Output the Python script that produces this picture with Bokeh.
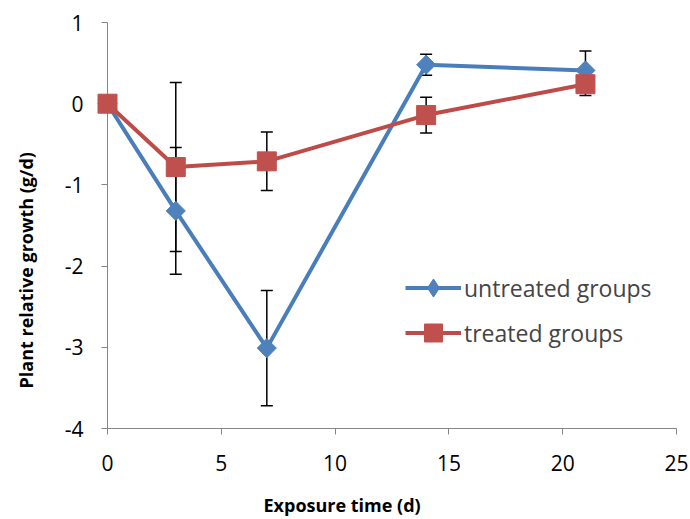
import numpy as np
from bokeh.plotting import figure
from bokeh.models import (ColumnDataSource, Whisker, TeeHead, FixedTicker, Legend, LegendItem,
                          Range1d, Title, LinearAxis)
from bokeh.embed import file_html
from bokeh.resources import INLINE

days = [0, 3, 7, 14, 21]
untreated = [0.0, -1.32, -3.01, 0.48, 0.41]
untreated_err = [0.0, 0.78, 0.71, 0.13, 0.24]
treated = [0.0, -0.78, -0.71, -0.14, 0.24]
treated_err = [0.0, 1.04, 0.36, 0.22, 0.14]
x_ticks = [0, 5, 10, 15, 20, 25]
y_ticks = [-4, -3, -2, -1, 0, 1]
labels = ["untreated groups", "treated groups"]
x_title = "Exposure time (d)"
y_title = "Plant relative growth (g/d)"

FONT = "Open Sans"
BLUE_LINE = "#4A7EBB"
BLUE = "#4F81BD"
RED_LINE = "#BE4B48"
RED = "#C0504D"
AXIS = "#868686"

p = figure(frame_width=569, frame_height=406, output_backend="svg", toolbar_location=None,
           x_range=Range1d(0, 25), y_range=Range1d(-4, 1),
           min_border_left=107, min_border_right=12, min_border_top=22, min_border_bottom=89)
p.outline_line_color = None
p.xgrid.visible = False
p.ygrid.visible = False

for ax in (p.xaxis[0], p.yaxis[0]):
    ax.axis_line_color = AXIS
    ax.major_tick_line_color = AXIS
    ax.minor_tick_line_color = None
    ax.major_tick_out = 6
    ax.major_tick_in = 0
    ax.major_label_text_font = FONT
    ax.major_label_text_font_size = "21px"
    ax.major_label_text_color = "black"

p.xaxis.ticker = FixedTicker(ticks=x_ticks)
p.yaxis.ticker = FixedTicker(ticks=y_ticks)
p.xaxis.major_label_overrides = {t: str(t) for t in x_ticks}
p.yaxis.major_label_overrides = {t: str(t) for t in y_ticks}
p.xaxis.major_label_standoff = 20
p.yaxis.major_label_standoff = 18

# invisible spacer axis (one hidden tick) to push the y title outward
spacer = LinearAxis(ticker=FixedTicker(ticks=[0]), axis_line_color=None,
                    major_tick_line_color=None, minor_tick_line_color=None,
                    major_tick_out=15, major_tick_in=0, minor_tick_out=0, minor_tick_in=0,
                    major_label_standoff=0, major_label_overrides={0: ""})
p.add_layout(spacer, "left")

p.add_layout(Title(text=x_title, align="left", offset=156, text_font=FONT,
                   text_font_style="bold", text_font_size="18px", text_color="black",
                   standoff=34), "below")
p.add_layout(Title(text=y_title, align="left", offset=40, text_font=FONT,
                   text_font_style="bold", text_font_size="18px", text_color="black",
                   standoff=18), "left")

def add_err(vals, errs):
    src = ColumnDataSource(dict(x=days,
                                lo=[v - e for v, e in zip(vals, errs)],
                                hi=[v + e for v, e in zip(vals, errs)]))
    w = Whisker(base="x", lower="lo", upper="hi", source=src, dimension="height",
                line_color="black", line_width=1.5,
                upper_head=TeeHead(size=12, line_color="black", line_width=1.5),
                lower_head=TeeHead(size=12, line_color="black", line_width=1.5),
                level="underlay")
    p.add_layout(w)

add_err(untreated, untreated_err)
add_err(treated, treated_err)

src_u = ColumnDataSource(dict(x=days, y=untreated))
src_t = ColumnDataSource(dict(x=days, y=treated))

lu = p.line("x", "y", source=src_u, line_color=BLUE_LINE, line_width=4, line_join="round")
mu = p.scatter("x", "y", source=src_u, marker="square", angle=np.pi / 4, size=13.5,
               fill_color=BLUE, line_color=BLUE, level="overlay")
lt = p.line("x", "y", source=src_t, line_color=RED_LINE, line_width=4, line_join="round")
mt = p.scatter("x", "y", source=src_t, marker="square", size=19,
               fill_color=RED, line_color=RED, level="overlay")

# legend-only marker glyphs (zero size in the plot; the legend sizes them itself)
mu_leg = p.scatter("x", "y", source=src_u, marker="diamond", size=0,
                   fill_color=BLUE, line_color=BLUE)
mt_leg = p.scatter("x", "y", source=src_t, marker="square", size=0,
                   fill_color=RED, line_color=RED)

legend = Legend(items=[LegendItem(label=labels[0], renderers=[lu, mu_leg]),
                       LegendItem(label=labels[1], renderers=[lt, mt_leg])],
                location=(298, 73), background_fill_alpha=0, border_line_color=None,
                label_text_font=FONT, label_text_font_size="23px",
                glyph_width=56, glyph_height=45, label_standoff=3, spacing=0,
                padding=0, margin=0)
p.add_layout(legend)

open("out.html", "w").write(file_html(p, INLINE))
